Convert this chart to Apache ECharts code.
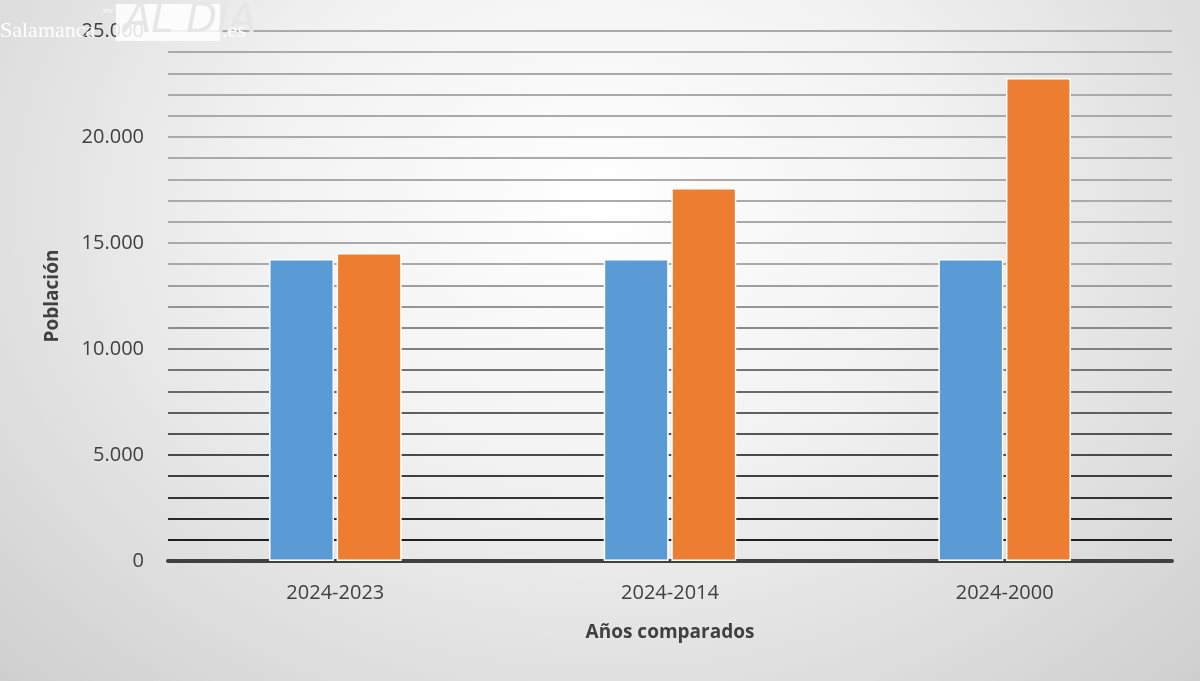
<!DOCTYPE html>
<html><head><meta charset="utf-8">
<script src="https://cdn.jsdelivr.net/npm/echarts@6/dist/echarts.min.js"></script>
<style>html,body{margin:0;padding:0;}#c{width:1200px;height:681px;background:radial-gradient(ellipse at 50% 30%,#ffffff 0%,#f2f2f2 40%,#cfcfcf 100%);}</style>
</head><body><div id="c"></div>
<script>
const categories = ['2024-2023', '2024-2014', '2024-2000'];
const serie2024 = [14250, 14250, 14250];
const serieComparada = [14530, 17590, 22780];
const yTicks = [0, 5000, 10000, 15000, 20000, 25000];

const gridColors = [];
for (let i = 0; i <= 25; i++) {
  const t = Math.min(1, i / 14);
  const v = Math.round(20 + t * 150);
  gridColors.push('rgb(' + v + ',' + v + ',' + v + ')');
}
const chart = echarts.init(document.getElementById('c'));
chart.setOption({
  backgroundColor: 'transparent',
  grid: {left: 168, right: 28, top: 31, bottom: 120},
  xAxis: {type:'category', data: categories,
    axisLine:{lineStyle:{color:'#404040', width:4}}, axisTick:{show:false},
    axisLabel:{fontSize:20, color:'#404040', margin:22, fontFamily:'Open Sans'},
    name:'Años comparados', nameLocation:'middle', nameGap:62,
    nameTextStyle:{fontSize:19, fontWeight:'bold', color:'#404040', fontFamily:'Open Sans'}},
  yAxis: {type:'value', min:0, max:25000, interval:1000,
    axisLine:{show:false}, axisTick:{show:false},
    axisLabel:{fontSize:20, color:'#404040', margin:24, fontFamily:'Open Sans',
      formatter: v => yTicks.includes(v) ? (v===0?'0':v.toLocaleString('de-DE')) : ''},
    splitLine:{lineStyle:{color:gridColors, width:2}},
    name:'Población', nameLocation:'middle', nameGap:106,
    nameTextStyle:{fontSize:19, fontWeight:'bold', color:'#404040', fontFamily:'Open Sans'}},
  series: [
    {type:'bar', data: serie2024, barWidth:65, barGap:'4%', itemStyle:{color:'#5b9bd5', borderColor:'#ffffff', borderWidth:1.5}},
    {type:'bar', data: serieComparada, barWidth:65, itemStyle:{color:'#ed7d31', borderColor:'#ffffff', borderWidth:1.5}}
  ],
  graphic: [
    {type:'rect', z:100, shape:{x:116,y:4,width:104,height:37}, style:{fill:'rgba(255,255,255,0.85)'}},
    {type:'text', z:101, left: 124, top: 2, style:{text:'AL DÍA', fill:'#e6e6e6', font:'italic 40px "DejaVu Sans"'}},
    {type:'text', z:102, left: 0, top: 20, style:{text:'Salamanca', fill:'#ffffff', font:'22px "Liberation Serif"'}},
    {type:'text', z:102, left: 103, top: 6, style:{text:'rtv', fill:'#ffffff', font:'9px "Liberation Serif"'}},
    {type:'text', z:102, left: 222, top: 20, style:{text:'.es', fill:'#ffffff', font:'22px "Liberation Serif"'}}
  ]
});
</script></body></html>
